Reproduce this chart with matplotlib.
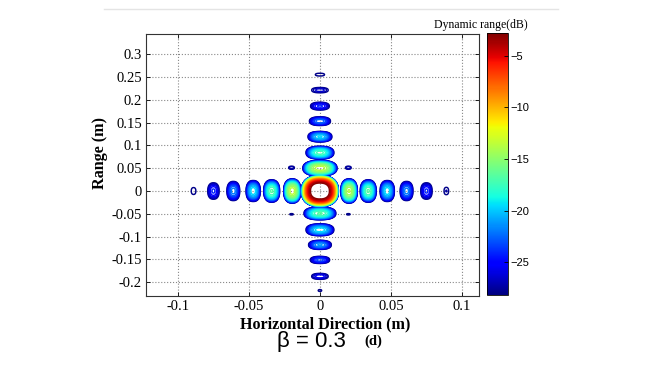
import numpy as np
import matplotlib
matplotlib.use('Agg')
import matplotlib.pyplot as plt
from matplotlib.colors import Normalize

# lobes: centre, half extent of the outer (-28 dB) contour, peak level
MAIN_LOBE = (0.0, 0.0, 0.0130, 0.0340, 0.0)

AZ_X = [-0.089, -0.075, -0.061, -0.047, -0.034, -0.0195,
        0.0205, 0.034, 0.0474, 0.061, 0.075, 0.089]
AZ_HALF_W = [0.0016, 0.0040, 0.0045, 0.0050, 0.0056, 0.0060,
             0.0058, 0.0056, 0.0050, 0.0045, 0.0040, 0.0016]
AZ_HALF_H = [0.0075, 0.0180, 0.0210, 0.0230, 0.0245, 0.0265,
             0.0265, 0.0245, 0.0230, 0.0210, 0.0180, 0.0080]
AZ_PEAK_DB = [-27.3, -24.0, -21.5, -19.0, -16.5, -13.0,
              -13.5, -16.5, -19.0, -21.5, -24.0, -27.2]

RG_Y = [0.255, 0.221, 0.186, 0.153, 0.119, 0.084, 0.050,
        -0.049, -0.085, -0.118, -0.151, -0.187, -0.218]
RG_HALF_W = [0.0032, 0.0058, 0.0066, 0.0074, 0.0084, 0.0098, 0.0120,
             0.0112, 0.0098, 0.0080, 0.0068, 0.0058, 0.0012]
RG_HALF_H = [0.0030, 0.0058, 0.0085, 0.0095, 0.0115, 0.0140, 0.0170,
             0.0140, 0.0130, 0.0100, 0.0078, 0.0065, 0.0020]
RG_PEAK_DB = [-27.3, -26.0, -24.0, -22.0, -19.5, -17.0, -13.0,
              -16.5, -19.0, -21.0, -23.0, -25.0, -27.8]

CROSS_X = [-0.020, 0.020, -0.020, 0.020]
CROSS_Y = [0.051, 0.051, -0.051, -0.051]
CROSS_HALF_W = [0.0020, 0.0020, 0.0012, 0.0012]
CROSS_HALF_H = [0.0034, 0.0034, 0.0015, 0.0015]
CROSS_PEAK_DB = [-26.5, -26.5, -27.8, -27.8]

X_TICKS = [-0.1, -0.05, 0, 0.05, 0.1]
X_TICK_LABELS = ["-0.1", "-0.05", "0", "0.05", "0.1"]
Y_TICKS = [-0.2, -0.15, -0.1, -0.05, 0, 0.05, 0.1, 0.15, 0.2, 0.25, 0.3]
Y_TICK_LABELS = ["-0.2", "-0.15", "-0.1", "-0.05", "0", "0.05",
                 "0.1", "0.15", "0.2", "0.25", "0.3"]
CB_TICKS = [-25, -20, -15, -10, -5]

FLOOR_DB = -28.0
VMIN, VMAX = -28.2, -2.8
P_NORM = 2.4  # lobes are a little squarer than ellipses


def lobe_amp(X, Y, x0, y0, hx, hy, peak):
    """Amplitude of one lobe, hitting FLOOR_DB on the outline (hx, hy)."""
    r = (np.abs((X - x0) / hx) ** P_NORM + np.abs((Y - y0) / hy) ** P_NORM) ** (1.0 / P_NORM)
    theta = np.arccos(10 ** ((FLOOR_DB - peak) / 20.0))
    arg = np.minimum(theta * r, np.pi / 2)
    return 10 ** (peak / 20.0) * np.cos(arg)


xs = np.linspace(-0.1225, 0.112, 1300)
ys = np.linspace(-0.23, 0.344, 1400)
X, Y = np.meshgrid(xs, ys)

lobes = [MAIN_LOBE]
lobes += [(x, 0.0, w, h, p) for x, w, h, p in zip(AZ_X, AZ_HALF_W, AZ_HALF_H, AZ_PEAK_DB)]
lobes += [(0.0, y, w, h, p) for y, w, h, p in zip(RG_Y, RG_HALF_W, RG_HALF_H, RG_PEAK_DB)]
lobes += list(zip(CROSS_X, CROSS_Y, CROSS_HALF_W, CROSS_HALF_H, CROSS_PEAK_DB))

A = np.zeros_like(X)
for lb in lobes:
    A = np.maximum(A, lobe_amp(X, Y, *lb))
Z = 20 * np.log10(np.maximum(A, 1e-6))

fig = plt.figure(figsize=(6.5, 3.66), dpi=100)
ax = fig.add_axes([0.2246, 0.1913, 0.5123, 0.7158])
norm = Normalize(VMIN, VMAX)
levels = np.linspace(FLOOR_DB, -3.0, 34)
ax.contour(X, Y, Z, levels=levels, cmap='jet', norm=norm, linewidths=1.05)

ax.set_xlim(-0.1225, 0.112)
ax.set_ylim(-0.23, 0.344)
serif = 'Liberation Serif'
ax.set_xticks(X_TICKS)
ax.set_xticklabels(X_TICK_LABELS, family=serif, fontsize=10.5)
ax.set_yticks(Y_TICKS)
ax.set_yticklabels(Y_TICK_LABELS, family=serif, fontsize=10.5)
ax.tick_params(direction='in', length=3, width=0.6, top=True, right=True, pad=3)
ax.grid(True, ls=':', color='#888888', lw=0.8)
for s in ax.spines.values():
    s.set_linewidth(0.8)
    s.set_color('#333333')

fig.text(0.501, 0.115, "Horizontal Direction (m)", family=serif, weight='bold',
         fontsize=11.6, ha='center', va='center')
fig.text(0.154, 0.582, "Range (m)", family=serif, weight='bold',
         fontsize=11.6, ha='center', va='center', rotation=90)
fig.text(0.479, 0.068, "\u03b2 = 0.3", family='Liberation Sans', fontsize=16,
         ha='center', va='center')
fig.text(0.575, 0.068, "(d)", family=serif, weight='bold', fontsize=10.5,
         ha='center', va='center')

cax = fig.add_axes([0.7492, 0.194, 0.0323, 0.715])
sm = plt.cm.ScalarMappable(norm=norm, cmap='jet')
cb = fig.colorbar(sm, cax=cax, ticks=CB_TICKS)
cb.ax.tick_params(direction='in', length=3, width=0.6, labelsize=8, pad=2)
for t in cb.ax.get_yticklabels():
    t.set_family('Liberation Sans')
cb.outline.set_linewidth(0.6)
fig.text(0.739, 0.932, "Dynamic range(dB)", family=serif, fontsize=8.5,
         ha='center', va='center')

fig.add_artist(plt.Line2D([0.16, 0.858], [0.975, 0.975], color='#e4e4e4', lw=1))

fig.savefig('out.png', dpi=100)
